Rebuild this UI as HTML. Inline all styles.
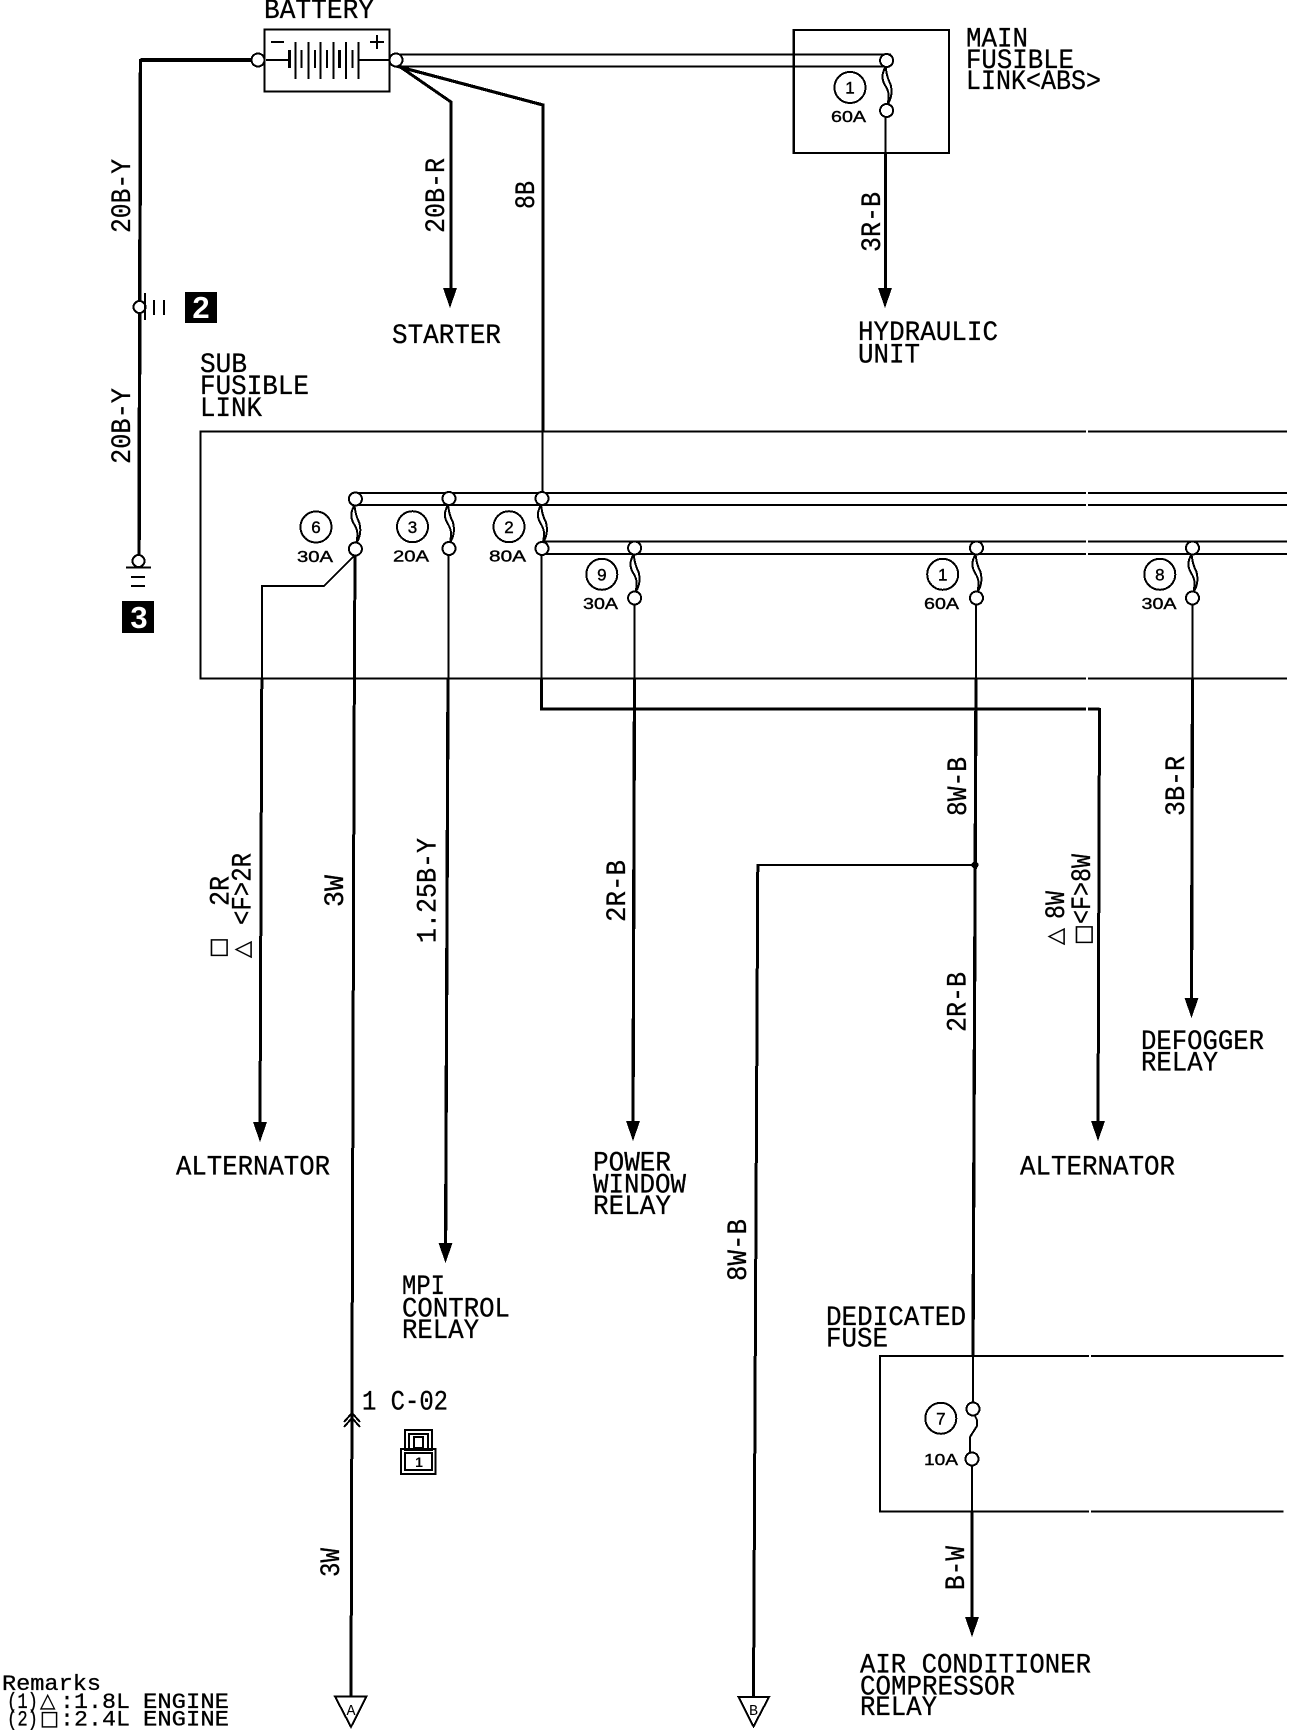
<!DOCTYPE html>
<html><head><meta charset="utf-8"><title>Wiring diagram</title>
<style>
html,body{margin:0;padding:0;background:#fff}
svg{display:block}
text{font-family:"Liberation Mono","DejaVu Sans Mono",monospace;fill:#000;font-size:27.5px;stroke:#000;stroke-width:.3px}
.s{font-family:"Liberation Sans",sans-serif;font-size:16px;stroke:#000;stroke-width:.4px}
.n{font-family:"Liberation Sans",sans-serif;font-size:17px;text-anchor:middle;stroke:#000;stroke-width:.4px}
.g{font-family:"DejaVu Sans",sans-serif;font-size:22px}
.r{font-size:22px}
.w{fill:none;stroke:#000;stroke-linejoin:miter}
</style></head><body>
<svg xmlns="http://www.w3.org/2000/svg" width="1312" height="1730" viewBox="0 0 1312 1730" shape-rendering="crispEdges">
<defs>
<g id="f">
<path class="w" stroke-width="2" d="M-1,6C-5,14-5,18-2,24C2,30 3,34 1,44M-1,6C0,14 1,18 4,24C6,32 5,38 1,44"/>
<circle cx="0" cy="0" r="6.5" fill="#fff" stroke="#000" stroke-width="2"/>
<circle cx="0" cy="50" r="6.5" fill="#fff" stroke="#000" stroke-width="2"/>
</g>
<path id="a" d="M-7,0H7L0,20Z"/>
</defs>
<rect width="1312" height="1730" fill="#fff"/>

<!-- boxes -->
<path class="w" stroke-width="2.2" d="M793.7,30H949V153H793.7Z"/>
<path class="w" stroke-width="2.4" d="M1287,431.5H200.5V678.5H1287"/>
<path class="w" stroke-width="2.4" d="M1283.5,1356H880V1511.5H1283.5"/>
<rect x="264.5" y="29.5" width="125" height="62" fill="#fff" stroke="#000" stroke-width="2"/>

<!-- battery -->
<path class="w" stroke-width="2" d="M266,60H289M359,60H389M271,42H284M370,42H384M377,35V49"/>
<path class="w" stroke-width="2" d="M295.7,42V79M308.3,42V79M320.7,42V79M333.3,42V79M346,42V79M358.7,42V79M301.7,50V68M315,50V68M327,50V68M352.3,50V68"/>
<path class="w" stroke-width="3" d="M289.3,50V68M339.3,50V68"/>

<!-- wires -->
<path class="w" stroke-width="2" d="M396,54.5H891M396,66.5H886"/>
<path class="w" stroke-width="4" d="M258,60H140.5"/>
<path class="w" stroke-width="3.4" d="M140.5,59L139,561"/>
<path class="w" stroke-width="3" d="M396,64L451,102V290"/>
<path class="w" stroke-width="3.2" d="M396,66L543,105V431"/>
<path class="w" stroke-width="2" d="M542.5,431V493"/>
<path class="w" stroke-width="2" d="M885.4,110V153"/>
<path class="w" stroke-width="3" d="M885.4,153V290"/>

<path class="w" stroke-width="2" d="M355,493H1287M355,505H1287M542,541.7H1287M542,554H1287"/>
<!-- fuse 6 -->
<path class="w" stroke-width="2" d="M355,555L324,586H262V679"/>
<path class="w" stroke-width="3" d="M261.8,679L260,1125"/>
<path class="w" stroke-width="3" d="M355,549L354,760L351,1697"/>
<!-- fuse 3 -->
<path class="w" stroke-width="2" d="M448.5,550V679"/>
<path class="w" stroke-width="3.2" d="M448,679L445.6,1245"/>
<!-- fuse 2 -->
<path class="w" stroke-width="2" d="M541.5,550V679"/>
<path class="w" stroke-width="2.6" d="M541.5,679V709H1099.5"/>
<path class="w" stroke-width="3" d="M1099.5,708L1098,1125"/>
<!-- fuse 9 -->
<path class="w" stroke-width="2" d="M634.5,600V679"/>
<path class="w" stroke-width="3.2" d="M634.5,679L633,1125"/>
<!-- fuse 1 -->
<path class="w" stroke-width="2" d="M976,600V679"/>
<path class="w" stroke-width="3.2" d="M976,679L973,1356"/>
<path class="w" stroke-width="2.4" d="M975,865H757.6"/>
<path class="w" stroke-width="3" d="M757.8,864L753.5,1698"/>
<circle cx="975" cy="865" r="3.5"/>
<!-- fuse 8 -->
<path class="w" stroke-width="2" d="M1192.5,600V679"/>
<path class="w" stroke-width="3.2" d="M1192.5,679L1191.5,1002"/>
<!-- fuse 7 -->
<path class="w" stroke-width="2" d="M973,1356V1403M972,1465V1512"/>
<path class="w" stroke-width="3.2" d="M972,1512V1620"/>
<path class="w" stroke-width="2" d="M974,1414L977,1420V1426L970,1437V1453"/>

<!-- seam gaps -->
<rect x="1086.2" y="425" width="1.8" height="290" fill="#fff"/>
<rect x="1089.2" y="1350" width="2" height="170" fill="#fff"/>

<!-- arrowheads -->
<use href="#a" x="450" y="288"/>
<use href="#a" x="885" y="288"/>
<use href="#a" x="260" y="1122"/>
<use href="#a" x="445.5" y="1243"/>
<use href="#a" x="633" y="1121"/>
<use href="#a" x="1098" y="1121"/>
<use href="#a" x="1191.5" y="998"/>
<use href="#a" x="972" y="1617"/>

<!-- terminals -->
<circle cx="258" cy="60" r="6.5" fill="#fff" stroke="#000" stroke-width="2"/>
<circle cx="396" cy="60" r="6.5" fill="#fff" stroke="#000" stroke-width="2"/>
<use href="#f" x="886.6" y="60.5"/>
<use href="#f" x="355.4" y="499"/>
<use href="#f" x="449" y="498.5"/>
<use href="#f" x="542" y="498.5"/>
<use href="#f" x="634.6" y="548"/>
<use href="#f" x="976.5" y="548"/>
<use href="#f" x="1192.5" y="548"/>
<circle cx="973" cy="1409" r="6.5" fill="#fff" stroke="#000" stroke-width="2"/>
<circle cx="972" cy="1459" r="6.5" fill="#fff" stroke="#000" stroke-width="2"/>

<!-- grounds -->
<circle cx="139.5" cy="307" r="6" fill="#fff" stroke="#000" stroke-width="2"/>
<path class="w" stroke-width="2" d="M145,293V320M154,300V315M164,300V315"/>
<rect x="185" y="292" width="32" height="31"/>
<text x="201" y="318" style="font-family:'Liberation Sans',sans-serif;font-weight:bold;font-size:31px;fill:#fff;stroke:none;text-anchor:middle">2</text>
<circle cx="138.5" cy="561" r="6" fill="#fff" stroke="#000" stroke-width="2"/>
<path class="w" stroke-width="2.4" d="M126,567.5H151"/>
<path class="w" stroke-width="2" d="M131,577H145M131,586H145"/>
<rect x="122" y="601" width="32" height="32"/>
<text x="139" y="628" style="font-family:'Liberation Sans',sans-serif;font-weight:bold;font-size:31px;fill:#fff;stroke:none;text-anchor:middle">3</text>

<!-- numbered circles -->
<g fill="#fff" stroke="#000" stroke-width="2">
<circle cx="850" cy="87.5" r="15.5"/><circle cx="316" cy="527" r="15.5"/><circle cx="412.5" cy="526.7" r="15.5"/><circle cx="509" cy="526.7" r="15.5"/><circle cx="601.8" cy="574.3" r="15.5"/><circle cx="942.7" cy="574.3" r="15.5"/><circle cx="1159.8" cy="574.3" r="15.5"/><circle cx="940.8" cy="1418.3" r="15.5"/>
</g>
<text class="n" x="850" y="93.5">1</text>
<text class="n" x="316" y="533">6</text>
<text class="n" x="412.5" y="533">3</text>
<text class="n" x="509" y="533">2</text>
<text class="n" x="601.8" y="580.5">9</text>
<text class="n" x="942.7" y="580.5">1</text>
<text class="n" x="1159.8" y="580.5">8</text>
<text class="n" x="940.8" y="1424.5">7</text>

<!-- amp labels -->
<text class="s" x="831" y="122" textLength="35" lengthAdjust="spacingAndGlyphs">60A</text>
<text class="s" x="297" y="562" textLength="36" lengthAdjust="spacingAndGlyphs">30A</text>
<text class="s" x="393" y="561.5" textLength="36" lengthAdjust="spacingAndGlyphs">20A</text>
<text class="s" x="489" y="561.5" textLength="37" lengthAdjust="spacingAndGlyphs">80A</text>
<text class="s" x="583" y="609" textLength="35" lengthAdjust="spacingAndGlyphs">30A</text>
<text class="s" x="924" y="609" textLength="35" lengthAdjust="spacingAndGlyphs">60A</text>
<text class="s" x="1141.5" y="609" textLength="35" lengthAdjust="spacingAndGlyphs">30A</text>
<text class="s" x="924" y="1465" textLength="34" lengthAdjust="spacingAndGlyphs">10A</text>

<!-- horizontal labels -->
<text x="264" y="18" textLength="110" lengthAdjust="spacingAndGlyphs">BATTERY</text>
<text x="966" y="46.7" textLength="62" lengthAdjust="spacingAndGlyphs">MAIN</text>
<text x="966" y="68" textLength="108" lengthAdjust="spacingAndGlyphs">FUSIBLE</text>
<text x="966" y="89" textLength="135" lengthAdjust="spacingAndGlyphs">LINK&lt;ABS&gt;</text>
<text x="392" y="343" textLength="109" lengthAdjust="spacingAndGlyphs">STARTER</text>
<text x="858" y="340" textLength="140" lengthAdjust="spacingAndGlyphs">HYDRAULIC</text>
<text x="858" y="362.7" textLength="62" lengthAdjust="spacingAndGlyphs">UNIT</text>
<text x="200" y="372" textLength="47" lengthAdjust="spacingAndGlyphs">SUB</text>
<text x="200" y="394" textLength="109" lengthAdjust="spacingAndGlyphs">FUSIBLE</text>
<text x="200" y="416" textLength="62" lengthAdjust="spacingAndGlyphs">LINK</text>
<text x="176" y="1174.3" textLength="154" lengthAdjust="spacingAndGlyphs">ALTERNATOR</text>
<text x="1020" y="1174.3" textLength="155" lengthAdjust="spacingAndGlyphs">ALTERNATOR</text>
<text x="593" y="1170.7" textLength="78" lengthAdjust="spacingAndGlyphs">POWER</text>
<text x="593" y="1192.7" textLength="93" lengthAdjust="spacingAndGlyphs">WINDOW</text>
<text x="593" y="1214" textLength="78" lengthAdjust="spacingAndGlyphs">RELAY</text>
<text x="1141" y="1049" textLength="123" lengthAdjust="spacingAndGlyphs">DEFOGGER</text>
<text x="1141" y="1070.7" textLength="77" lengthAdjust="spacingAndGlyphs">RELAY</text>
<text x="402" y="1294" textLength="43" lengthAdjust="spacingAndGlyphs">MPI</text>
<text x="402" y="1316.5" textLength="108" lengthAdjust="spacingAndGlyphs">CONTROL</text>
<text x="402" y="1338" textLength="77" lengthAdjust="spacingAndGlyphs">RELAY</text>
<text x="826" y="1325" textLength="140" lengthAdjust="spacingAndGlyphs">DEDICATED</text>
<text x="826" y="1346.7" textLength="62" lengthAdjust="spacingAndGlyphs">FUSE</text>
<text x="860" y="1672.7" textLength="231" lengthAdjust="spacingAndGlyphs">AIR CONDITIONER</text>
<text x="860" y="1694.3" textLength="155" lengthAdjust="spacingAndGlyphs">COMPRESSOR</text>
<text x="860" y="1715" textLength="77" lengthAdjust="spacingAndGlyphs">RELAY</text>
<text x="362" y="1409.6" textLength="86" lengthAdjust="spacingAndGlyphs">1 C-02</text>
<text class="r" x="2" y="1690" textLength="99" lengthAdjust="spacingAndGlyphs">Remarks</text>
<text class="r" x="7" y="1708" textLength="31" lengthAdjust="spacingAndGlyphs">(1)</text>
<text class="g" x="40" y="1707" style="font-size:20px">△</text>
<text class="r" x="60" y="1708" textLength="70" lengthAdjust="spacingAndGlyphs">:1.8L</text>
<text class="r" x="143" y="1708" textLength="86" lengthAdjust="spacingAndGlyphs">ENGINE</text>
<text class="r" x="7" y="1725.7" textLength="31" lengthAdjust="spacingAndGlyphs">(2)</text>
<text class="g" x="40" y="1725" style="font-size:20px">□</text>
<text class="r" x="60" y="1725.7" textLength="70" lengthAdjust="spacingAndGlyphs">:2.4L</text>
<text class="r" x="143" y="1725.7" textLength="86" lengthAdjust="spacingAndGlyphs">ENGINE</text>

<!-- vertical labels -->
<text transform="translate(130,233) rotate(-90)" textLength="74" lengthAdjust="spacingAndGlyphs">20B-Y</text>
<text transform="translate(130,464) rotate(-90)" textLength="76" lengthAdjust="spacingAndGlyphs">20B-Y</text>
<text transform="translate(444,233) rotate(-90)" textLength="75" lengthAdjust="spacingAndGlyphs">20B-R</text>
<text transform="translate(534,209) rotate(-90)" textLength="28" lengthAdjust="spacingAndGlyphs">8B</text>
<text transform="translate(880,252) rotate(-90)" textLength="60" lengthAdjust="spacingAndGlyphs">3R-B</text>
<text transform="translate(343,907) rotate(-90)" textLength="32" lengthAdjust="spacingAndGlyphs">3W</text>
<text transform="translate(339,1577) rotate(-90)" textLength="29" lengthAdjust="spacingAndGlyphs">3W</text>
<text transform="translate(228.6,906) rotate(-90)" textLength="30" lengthAdjust="spacingAndGlyphs">2R</text>
<text class="g" transform="translate(225,958) rotate(-90)">□</text>
<text class="g" transform="translate(249,958) rotate(-90)">△</text>
<text transform="translate(250.7,925) rotate(-90)" textLength="72" lengthAdjust="spacingAndGlyphs">&lt;F&gt;2R</text>
<text transform="translate(435.7,943) rotate(-90)" textLength="105" lengthAdjust="spacingAndGlyphs">1.25B-Y</text>
<text transform="translate(625,922) rotate(-90)" textLength="62" lengthAdjust="spacingAndGlyphs">2R-B</text>
<text transform="translate(966,816) rotate(-90)" textLength="59" lengthAdjust="spacingAndGlyphs">8W-B</text>
<text transform="translate(1184,816) rotate(-90)" textLength="60" lengthAdjust="spacingAndGlyphs">3B-R</text>
<text transform="translate(965.5,1032) rotate(-90)" textLength="60" lengthAdjust="spacingAndGlyphs">2R-B</text>
<text class="g" transform="translate(1062,945) rotate(-90)">△</text>
<text transform="translate(1064,919) rotate(-90)" textLength="28" lengthAdjust="spacingAndGlyphs">8W</text>
<text class="g" transform="translate(1090,945) rotate(-90)">□</text>
<text transform="translate(1090,924) rotate(-90)" textLength="70" lengthAdjust="spacingAndGlyphs">&lt;F&gt;8W</text>
<text transform="translate(964,1590) rotate(-90)" textLength="44" lengthAdjust="spacingAndGlyphs">B-W</text>
<text transform="translate(746,1281) rotate(-90)" textLength="62" lengthAdjust="spacingAndGlyphs">8W-B</text>

<!-- connector C-02 -->
<path class="w" stroke-width="2" d="M344,1422L352,1413L360,1422M344,1427L352,1418L360,1427"/>
<g fill="none" stroke="#000" stroke-width="2">
<rect x="405" y="1430" width="27" height="20"/>
<rect x="409" y="1434" width="19" height="16"/>
<rect x="414" y="1437" width="9" height="11"/>
<rect x="401" y="1449" width="34.5" height="25"/>
<rect x="405" y="1453" width="27" height="17"/>
</g>
<text x="419" y="1467" style="font-family:'Liberation Sans',sans-serif;font-weight:bold;font-size:14px;text-anchor:middle;stroke:none">1</text>

<!-- off-page triangles -->
<path d="M335,1696.5H366.5L351,1727Z" fill="#fff" stroke="#000" stroke-width="2"/>
<text x="351" y="1715" style="font-size:15px;text-anchor:middle;stroke:none">A</text>
<path d="M738.5,1697H769L753.5,1726.5Z" fill="#fff" stroke="#000" stroke-width="2"/>
<text x="753.5" y="1715" style="font-size:15px;text-anchor:middle;stroke:none">B</text>
</svg>
</body></html>
